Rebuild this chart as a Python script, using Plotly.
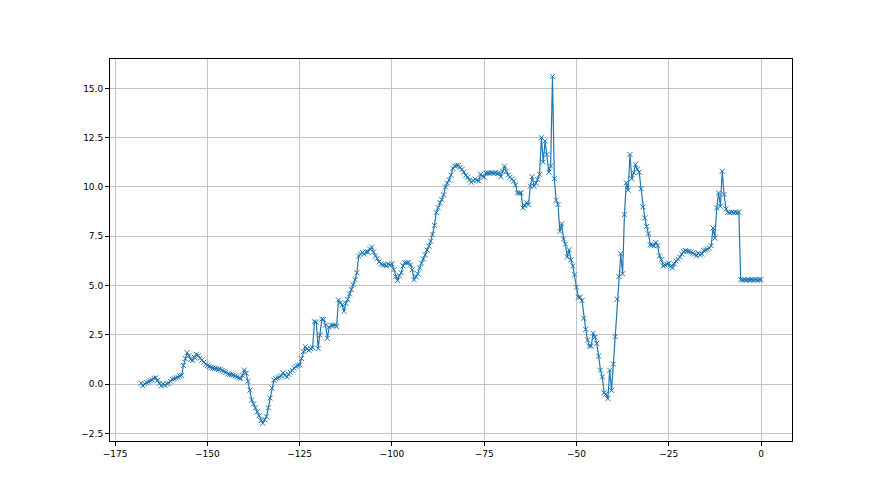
import plotly.graph_objects as go

# sample grid: starts at -168, one sample every 0.5
x_start = -168
x_step = 0.5

values = [
    0.05, -0.08, 0.02, 0.08, 0.12, 0.18, 0.22, 0.30, 0.32, 0.20,
    0.05, -0.08, 0.00, -0.05, 0.02, 0.05, 0.15, 0.25, 0.28, 0.32,
    0.35, 0.42, 0.45, 0.95, 1.30, 1.60, 1.45, 1.25, 1.20, 1.35,
    1.52, 1.45, 1.32, 1.22, 1.12, 1.02, 0.95, 0.90, 0.85, 0.82,
    0.80, 0.78, 0.75, 0.76, 0.70, 0.65, 0.60, 0.52, 0.50, 0.48,
    0.46, 0.42, 0.38, 0.32, 0.28, 0.45, 0.72, 0.55, 0.15, -0.30,
    -0.80, -1.00, -1.20, -1.40, -1.60, -1.85, -1.98, -1.80, -1.65, -1.20,
    -0.70, -0.20, 0.20, 0.28, 0.32, 0.36, 0.42, 0.58, 0.45, 0.37,
    0.50, 0.60, 0.70, 0.82, 0.90, 0.95, 0.98, 1.30, 1.65, 1.90,
    1.78, 1.72, 1.80, 1.85, 3.17, 3.15, 1.81, 2.50, 3.30, 3.28,
    3.00, 2.32, 2.90, 2.98, 2.98, 3.00, 2.92, 4.27, 4.12, 4.02,
    3.70, 4.10, 4.30, 4.58, 4.80, 5.04, 5.30, 5.65, 6.50, 6.60,
    6.68, 6.60, 6.72, 6.70, 6.85, 6.95, 6.70, 6.50, 6.38, 6.20,
    6.10, 6.05, 6.05, 6.00, 6.08, 6.05, 6.10, 5.80, 5.45, 5.25,
    5.50, 5.65, 6.00, 6.17, 6.15, 6.18, 6.05, 5.80, 5.30, 5.45,
    5.60, 5.90, 6.14, 6.35, 6.56, 6.80, 7.00, 7.25, 7.60, 8.05,
    8.70, 8.95, 9.20, 9.36, 9.60, 10.00, 10.20, 10.35, 10.60, 10.95,
    11.06, 11.08, 11.10, 11.00, 10.89, 10.75, 10.60, 10.50, 10.35, 10.24,
    10.32, 10.40, 10.35, 10.30, 10.65, 10.55, 10.50, 10.70, 10.72, 10.70,
    10.72, 10.70, 10.72, 10.68, 10.70, 10.52, 10.80, 11.06, 10.80, 10.60,
    10.50, 10.41, 10.30, 10.10, 9.70, 9.68, 9.70, 8.94, 9.05, 9.20,
    9.10, 10.04, 10.52, 10.04, 10.20, 10.38, 10.64, 12.50, 11.26, 12.33,
    11.65, 10.75, 11.06, 15.61, 10.42, 9.33, 9.11, 7.75, 8.14, 7.36,
    7.10, 6.45, 6.82, 6.30, 6.00, 5.55, 4.92, 4.41, 4.41, 4.24,
    3.34, 2.78, 2.24, 1.93, 1.93, 2.58, 2.38, 2.07, 1.42, 0.71,
    0.37, -0.44, -0.50, -0.73, 0.71, -0.31, 1.02, 2.41, 4.31, 5.46,
    6.62, 5.60, 8.60, 10.21, 9.84, 11.65, 10.42, 10.72, 11.15, 10.90,
    10.75, 9.91, 8.99, 8.43, 8.00, 7.63, 7.07, 7.05, 7.02, 7.19,
    7.02, 6.51, 6.31, 6.00, 6.05, 6.08, 6.14, 5.97, 5.89, 6.10,
    6.25, 6.34, 6.44, 6.60, 6.73, 6.78, 6.75, 6.73, 6.70, 6.65,
    6.60, 6.51, 6.65, 6.56, 6.60, 6.78, 6.80, 6.85, 6.90, 7.02,
    7.92, 7.41, 8.94, 9.70, 9.02, 10.80, 9.62, 8.89, 8.72, 8.70,
    8.72, 8.70, 8.72, 8.70, 8.72, 5.30, 5.28, 5.30, 5.28, 5.30,
    5.28, 5.30, 5.28, 5.30, 5.28, 5.30, 5.30,
]

BLUE = "#1f77b4"

fig = go.Figure()
fig.add_trace(go.Scatter(
    x0=x_start, dx=x_step, y=values,
    mode="lines+markers",
    line=dict(color=BLUE, width=1.2),
    marker=dict(symbol="x-thin", size=5, line=dict(color=BLUE, width=1)),
    showlegend=False,
))

axis_common = dict(
    showgrid=True, gridcolor="#c4c4c4", gridwidth=0.8,
    zeroline=False,
    showline=True, linecolor="black", linewidth=1, mirror=True,
    ticks="outside", ticklen=4, tickcolor="black", tickwidth=1,
    tickfont=dict(family="DejaVu Sans", size=9, color="black"),
)

fig.update_xaxes(range=[-176.4, 8.4], tick0=0, dtick=25, **axis_common)
fig.update_yaxes(range=[-2.88, 16.49], tick0=0, dtick=2.5, tickformat=".1f", **axis_common)

# page body adds an 8px offset, so margins are shifted to land on the reference frame
fig.update_layout(
    width=880, height=495,
    paper_bgcolor="white", plot_bgcolor="white",
    margin=dict(l=102, r=96, t=51, b=62),
)

fig.write_html("out.html")
